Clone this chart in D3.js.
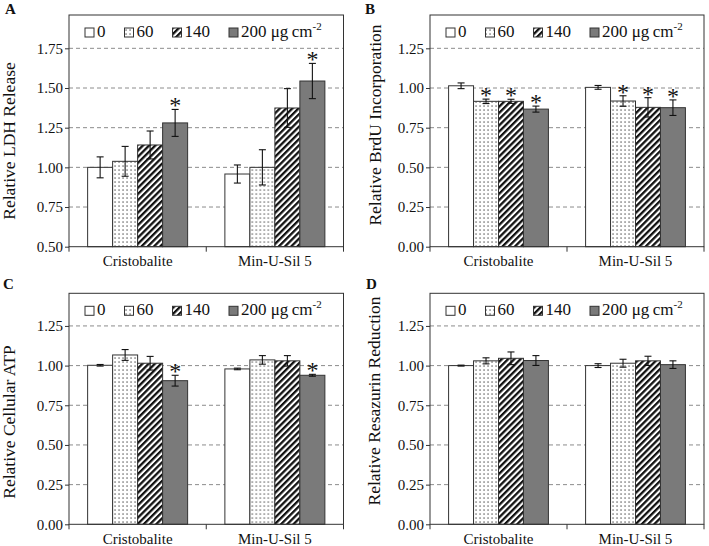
<!DOCTYPE html>
<html><head><meta charset="utf-8">
<script src="https://cdn.jsdelivr.net/npm/d3@7"></script>
<style>
body{margin:0;background:#fff;}
svg{display:block;font-family:"Liberation Serif","Times New Roman",serif;-webkit-font-smoothing:antialiased;}
</style></head>
<body><svg id="c" width="709" height="546"></svg>
<script>
// ---------- data ----------
const categories = ["Cristobalite", "Min-U-Sil 5"];
const doses = ["0", "60", "140", "200"];
const doseUnitLabel = " \u03bcg\u2009cm";
const doseUnitSup = "-2";

const ldhMean = [[1.00, 1.038, 1.141, 1.280], [0.958, 1.000, 1.374, 1.544]];
const ldhErr  = [[0.066, 0.094, 0.088, 0.085], [0.057, 0.111, 0.122, 0.111]];
const ldhSig  = [[0, 0, 0, 1], [0, 0, 0, 1]];

const brduMean = [[1.014, 0.916, 0.916, 0.867], [1.004, 0.918, 0.878, 0.876]];
const brduErr  = [[0.018, 0.014, 0.013, 0.019], [0.012, 0.033, 0.061, 0.049]];
const brduSig  = [[0, 1, 1, 1], [0, 1, 1, 1]];

const atpMean = [[1.002, 1.067, 1.015, 0.905], [0.979, 1.036, 1.030, 0.939]];
const atpErr  = [[0.005, 0.034, 0.043, 0.034], [0.005, 0.027, 0.033, 0.006]];
const atpSig  = [[0, 0, 0, 1], [0, 0, 0, 1]];

const resMean = [[1.000, 1.030, 1.046, 1.032], [1.000, 1.015, 1.030, 1.006]];
const resErr  = [[0.003, 0.019, 0.040, 0.031], [0.012, 0.025, 0.029, 0.024]];
const resSig  = [[0, 0, 0, 0], [0, 0, 0, 0]];

const ticksA = [0.50, 0.75, 1.00, 1.25, 1.50, 1.75];
const ticksB = [0.00, 0.25, 0.50, 0.75, 1.00, 1.25];

const panelLetters = ["A", "B", "C", "D"];
const panelTitles = ["Relative LDH Release", "Relative BrdU Incorporation",
                     "Relative Cellular ATP", "Relative Resazurin Reduction"];

// ---------- layout ----------
const layouts = [
  {left: 69,  right: 343.5, top: 15,    bottom: 246.7, lx: 5,   ly: 13.5,  tx: 15,  ty: 141},
  {left: 430, right: 704,   top: 15,    bottom: 246.7, lx: 365, ly: 13.5,  tx: 381, ty: 125},
  {left: 69,  right: 343.5, top: 293.3, bottom: 524.3, lx: 3,   ly: 288.5, tx: 15,  ty: 422},
  {left: 430, right: 704,   top: 293.3, bottom: 524.3, lx: 366, ly: 288.5, tx: 380, ty: 401}
];
const panelData = [
  {mean: ldhMean, err: ldhErr, sig: ldhSig, ticks: ticksA},
  {mean: brduMean, err: brduErr, sig: brduSig, ticks: ticksB},
  {mean: atpMean, err: atpErr, sig: atpSig, ticks: ticksB},
  {mean: resMean, err: resErr, sig: resSig, ticks: ticksB}
];

const svg = d3.select("#c");
const defs = svg.append("defs");
const dots = defs.append("pattern").attr("id", "dots").attr("patternUnits", "userSpaceOnUse")
  .attr("width", 4).attr("height", 4);
dots.append("rect").attr("width", 4).attr("height", 4).attr("fill", "#fff");
dots.append("rect").attr("x", 1.4).attr("y", 1.4).attr("width", 1.3).attr("height", 1.3).attr("fill", "#555");
const hatch = defs.append("pattern").attr("id", "hatch").attr("patternUnits", "userSpaceOnUse")
  .attr("width", 4.4).attr("height", 8).attr("patternTransform", "rotate(45)");
hatch.append("rect").attr("width", 4.4).attr("height", 8).attr("fill", "#fff");
hatch.append("rect").attr("width", 2.3).attr("height", 8).attr("fill", "#111");

const fills = ["#ffffff", "url(#dots)", "url(#hatch)", "#7a7a7a"];
const frameColor = "#333";
const pxPerUnit = 158.7;

panelData.forEach((pd, pi) => {
  const L = layouts[pi];
  const g = svg.append("g");
  const lo = pd.ticks[0], hi = pd.ticks[pd.ticks.length - 1];
  const y = d3.scaleLinear().domain([lo, hi]).range([L.bottom, L.bottom - (hi - lo) * pxPerUnit]);
  const x0 = d3.scaleBand().domain(categories).range([L.left, L.right]).paddingInner(0).paddingOuter(0);
  const x1 = d3.scaleBand().domain(doses).range([0, x0.bandwidth()]).paddingInner(0).paddingOuter(0.745);

  // gridlines
  g.selectAll(".grid").data(pd.ticks.slice(1)).enter().append("line")
    .attr("x1", L.left).attr("x2", L.right)
    .attr("y1", d => y(d)).attr("y2", d => y(d))
    .attr("stroke", "#8c8c8c").attr("stroke-width", 1).attr("stroke-dasharray", "4,3");

  // bars
  categories.forEach((cat, ci) => {
    const rows = doses.map((d, di) => ({d, di, v: pd.mean[ci][di], e: pd.err[ci][di], s: pd.sig[ci][di]}));
    const bg = g.append("g").attr("transform", `translate(${x0(cat)},0)`);
    bg.selectAll("rect.bar").data(rows).enter().append("rect")
      .attr("x", r => x1(r.d)).attr("width", x1.bandwidth())
      .attr("y", r => y(r.v)).attr("height", r => y(lo) - y(r.v))
      .attr("fill", r => fills[r.di]).attr("stroke", frameColor).attr("stroke-width", 1);
    // error bars
    const eb = bg.selectAll("g.err").data(rows).enter().append("g")
      .attr("stroke", "#111").attr("stroke-width", 1.1);
    const cx = r => x1(r.d) + x1.bandwidth() / 2;
    eb.append("line").attr("x1", cx).attr("x2", cx)
      .attr("y1", r => y(r.v - r.e)).attr("y2", r => y(r.v + r.e));
    [1, -1].forEach(sgn => {
      eb.append("line").attr("x1", r => cx(r) - 3.5).attr("x2", r => cx(r) + 3.5)
        .attr("y1", r => y(r.v + sgn * r.e)).attr("y2", r => y(r.v + sgn * r.e));
    });
    // significance
    bg.selectAll("text.sig").data(rows.filter(r => r.s)).enter().append("text")
      .attr("x", cx).attr("y", r => y(r.v + r.e) + 4)
      .attr("text-anchor", "middle").attr("font-size", 24).attr("fill", "#111")
      .attr("opacity", 0.99).text("*");
  });

  // frame
  g.append("rect").attr("x", L.left).attr("y", L.top)
    .attr("width", L.right - L.left).attr("height", L.bottom - L.top)
    .attr("fill", "none").attr("stroke", frameColor).attr("stroke-width", 1);

  // y axis
  const ya = d3.axisLeft(y).tickValues(pd.ticks).tickFormat(d3.format(".2f")).tickSize(4).tickPadding(2);
  const yg = g.append("g").attr("transform", `translate(${L.left},0)`).call(ya);
  yg.select(".domain").remove();
  yg.selectAll("line").attr("stroke", frameColor);
  yg.selectAll("text").attr("font-size", 15).attr("font-family", "Liberation Serif").attr("fill", "#111");

  // x axis ticks at band boundaries
  const bounds = categories.map(c => x0(c)).concat([L.right]);
  g.selectAll(".xt").data(bounds).enter().append("line")
    .attr("x1", d => d).attr("x2", d => d).attr("y1", L.bottom).attr("y2", L.bottom + 5)
    .attr("stroke", frameColor);
  g.selectAll(".xl").data(categories).enter().append("text")
    .attr("x", c => x0(c) + x0.bandwidth() / 2).attr("y", L.bottom + 19.5)
    .attr("text-anchor", "middle").attr("font-size", 15).attr("fill", "#111").text(c => c);

  // axis title
  g.append("text").attr("transform", `translate(${L.tx},${L.ty}) rotate(-90)`)
    .attr("text-anchor", "middle").attr("font-size", 17.5).attr("fill", "#111").text(panelTitles[pi]);

  // panel letter
  g.append("text").attr("x", L.lx).attr("y", L.ly).attr("font-size", 15).attr("font-weight", "bold")
    .attr("fill", "#111").text(panelLetters[pi]);

  // legend
  let lx = L.left + 16;
  const sqTop = L.top + 13, base = L.top + 22;
  doses.forEach((d, di) => {
    g.append("rect").attr("x", lx).attr("y", sqTop).attr("width", 9).attr("height", 9)
      .attr("fill", fills[di]).attr("stroke", frameColor).attr("stroke-width", 1);
    const t = g.append("text").attr("x", lx + 12).attr("y", base).attr("font-size", 17).attr("fill", "#111");
    t.append("tspan").text(d);
    if (di === doses.length - 1) {
      t.append("tspan").text(doseUnitLabel);
      t.append("tspan").attr("font-size", 11).attr("dy", -7).text(doseUnitSup);
    }
    lx = lx + 12 + t.node().getComputedTextLength() + 19;
  });
});
</script></body></html>
